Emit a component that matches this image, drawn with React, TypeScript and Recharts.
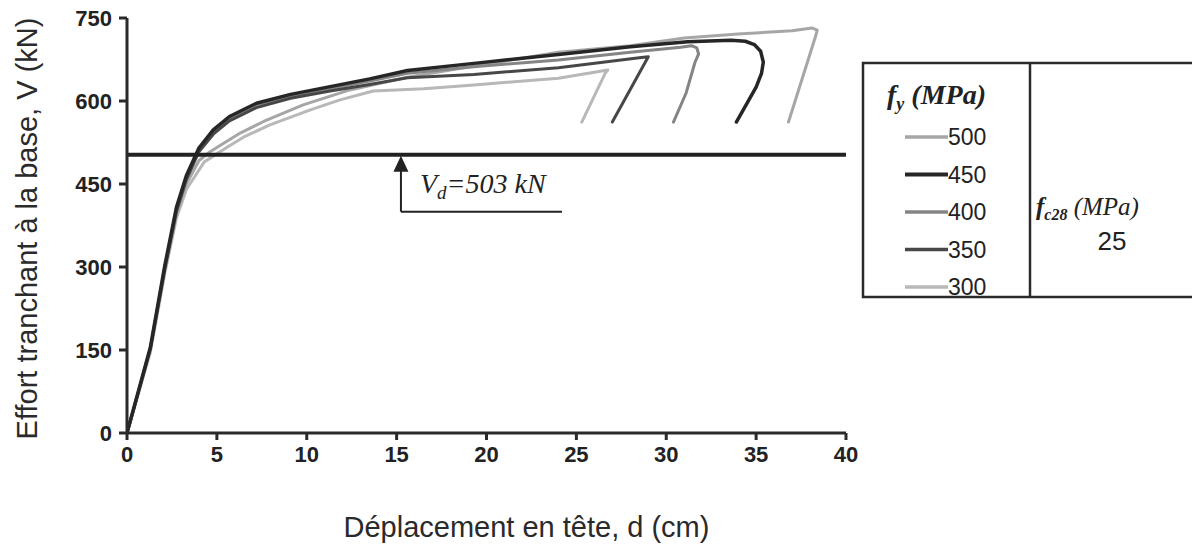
import React from 'react';
import { LineChart, Line, XAxis, YAxis, ReferenceLine, ReferenceDot } from 'recharts';

// fy (MPa) series
const fyValues = [500, 450, 400, 350, 300];
const fyColors = ['#a6a6a6', '#262626', '#858585', '#474747', '#b8b8b8'];
const fyWidths = [3, 3.5, 3, 3, 3];

// displacement d (cm) and base shear V (kN) per series
const d500 = [0, 1.3, 2.1, 2.75, 3.3, 4.0, 4.6, 5.2, 6.3, 7.6, 9.8, 12.4, 15.6, 19.3, 24, 28, 31, 34, 37, 38.1, 38.4, 38.3, 36.8];
const v500 = [0, 150, 293, 395, 450, 492, 508, 520, 542, 563, 593, 620, 643, 663, 688, 700, 714, 721, 727, 732, 728, 716, 562];

const d450 = [0, 1.3, 2.1, 2.75, 3.3, 4.0, 4.8, 5.7, 7.2, 9.1, 11.3, 13.5, 15.6, 19.3, 24, 28, 31.2, 33.6, 34.4, 34.9, 35.25, 35.4, 35.3, 35.0, 33.9];
const v450 = [0, 155, 302, 408, 465, 515, 548, 572, 596, 612, 626, 640, 655, 668, 684, 698, 707, 710, 708, 702, 690, 670, 650, 625, 562];

const d400 = [0, 1.3, 2.1, 2.75, 3.3, 4.0, 4.8, 5.7, 7.2, 9.1, 11.3, 13.5, 15.6, 19.3, 24, 28, 30.8, 31.4, 31.7, 31.8, 31.6, 31.1, 30.4];
const v400 = [0, 153, 299, 404, 462, 512, 545, 569, 593, 609, 622, 636, 650, 662, 674, 688, 697, 700, 696, 685, 670, 614, 562];

const d350 = [0, 1.3, 2.1, 2.75, 3.3, 4.0, 4.8, 5.7, 7.2, 9.1, 11.3, 13.5, 15.6, 19.3, 24, 28.5, 29.0, 28.9, 27.0];
const v350 = [0, 152, 296, 400, 458, 508, 540, 564, 588, 605, 618, 630, 642, 648, 660, 678, 680, 674, 562];

const d300 = [0, 1.3, 2.1, 2.75, 3.3, 4.3, 5.5, 6.5, 7.95, 10.2, 11.85, 13.7, 16.5, 19.3, 24, 26.75, 26.6, 25.3];
const v300 = [0, 146, 288, 388, 440, 490, 515, 535, 557, 584, 602, 618, 622, 629, 641, 656, 650, 562];

const xTicks = [0, 5, 10, 15, 20, 25, 30, 35, 40];
const yTicks = [0, 150, 300, 450, 600, 750];

const designShear = 503;
const fc28 = 25;
// annotation bracket (cm, kN)
const bracketX = [15.24, 24.2];
const bracketY = 400;
const noteAnchor = { x: 16.3, y: 434 };

const seriesD = [d500, d450, d400, d350, d300];
const seriesV = [v500, v450, v400, v350, v300];

const series = fyValues.map((fy, i) => ({
  fy,
  color: fyColors[i],
  width: fyWidths[i],
  data: seriesD[i].map((x, j) => ({ x, y: seriesV[i][j] })),
}));

// drawing order: light lines first, dark on top
const drawOrder = [4, 0, 2, 3, 1];

const sans = '"Liberation Sans", Arial, sans-serif';
const serif = '"Liberation Serif", "Times New Roman", serif';

const YTitle = (props: any) => {
  const vb = props.viewBox || { x: 0, y: 18, width: 127, height: 415 };
  const cx = 27;
  const cy = vb.y + vb.height / 2 + 3;
  return (
    <text x={cx} y={cy} transform={`rotate(-90 ${cx} ${cy})`} textAnchor="middle" dominantBaseline="central"
      style={{ fontFamily: sans, fontSize: 29, fill: '#2a2a2a' }}>
      Effort tranchant à la base, V (kN)
    </text>
  );
};

const XTitle = (props: any) => {
  const vb = props.viewBox || { x: 127, y: 433, width: 719, height: 113 };
  const cx = vb.x + vb.width / 2 + 40;
  const cy = vb.y + 104;
  return (
    <text x={cx} y={cy} textAnchor="middle" style={{ fontFamily: sans, fontSize: 29, fill: '#2a2a2a' }}>
      Déplacement en tête, d (cm)
    </text>
  );
};

const ArrowHead = (props: any) => {
  const { cx, cy } = props;
  if (cx == null || cy == null) return null;
  return <path d={`M ${cx} ${cy + 1} L ${cx - 7.5} ${cy + 17} L ${cx + 7.5} ${cy + 17} Z`} fill="#222" />;
};

const NoteText = (props: any) => {
  const { cx, cy } = props;
  if (cx == null || cy == null) return null;
  return (
    <text x={cx} y={cy} style={{ fontFamily: serif, fontStyle: 'italic', fontSize: 28, fill: '#222' }}>
      V<tspan fontSize={19} dy={6}>d</tspan><tspan dy={-6}>={designShear} kN</tspan>
    </text>
  );
};

const LegendBox = () => {
  const left = 863;
  const top = 63;
  const h = 234;
  const divider = 1030;
  return (
    <svg width={1192} height={546} style={{ position: 'absolute', left: 0, top: 0, pointerEvents: 'none' }}>
      <rect x={left} y={top} width={1192 - left + 10} height={h} fill="none" stroke="#2a2a2a" strokeWidth={2.5} />
      <line x1={divider} y1={top} x2={divider} y2={top + h} stroke="#2a2a2a" strokeWidth={2.5} />
      <text x={887} y={104} style={{ fontFamily: serif, fontStyle: 'italic', fontWeight: 'bold', fontSize: 28, fill: '#222' }}>
        f<tspan fontSize={18} dy={6}>y</tspan><tspan dy={-6}>{'  (MPa)'}</tspan>
      </text>
      {series.map((s, i) => {
        const y = 137 + i * 37.5;
        return (
          <g key={s.fy}>
            <line x1={905} y1={y} x2={948} y2={y} stroke={s.color} strokeWidth={s.width + 0.5} />
            <text x={948} y={y} dominantBaseline="central" style={{ fontFamily: sans, fontSize: 23, fill: '#222' }}>
              {s.fy}
            </text>
          </g>
        );
      })}
      <text x={1036} y={215} style={{ fontFamily: serif, fontStyle: 'italic', fontSize: 25, fill: '#222' }}>
        <tspan fontWeight="bold">f</tspan><tspan fontSize={16} dy={5} fontWeight="bold">c28</tspan><tspan dy={-5}>{' (MPa)'}</tspan>
      </text>
      <text x={1112} y={250} textAnchor="middle" style={{ fontFamily: sans, fontSize: 26, fill: '#222' }}>
        {fc28}
      </text>
    </svg>
  );
};

export default function App() {
  return (
    <div style={{ position: 'absolute', left: 0, top: 0, width: 1192, height: 546, background: '#fff' }}>
      <LineChart width={1192} height={546} margin={{ top: 18, right: 346, bottom: 0, left: 0 }}>
        <XAxis
          type="number"
          dataKey="x"
          domain={[0, 40]}
          ticks={xTicks}
          allowDataOverflow
          height={113}
          tickSize={7}
          tickMargin={6}
          axisLine={{ stroke: '#2a2a2a', strokeWidth: 3 }}
          tickLine={{ stroke: '#2a2a2a', strokeWidth: 3 }}
          tick={{ fontFamily: sans, fontSize: 22, fontWeight: 'bold', fill: '#222' }}
          label={XTitle}
        />
        <YAxis
          type="number"
          dataKey="y"
          domain={[0, 750]}
          ticks={yTicks}
          allowDataOverflow
          width={127}
          tickSize={8}
          tickMargin={7}
          axisLine={{ stroke: '#2a2a2a', strokeWidth: 3 }}
          tickLine={{ stroke: '#2a2a2a', strokeWidth: 3 }}
          tick={{ fontFamily: sans, fontSize: 22, fontWeight: 'bold', fill: '#222' }}
          label={YTitle}
        />
        {drawOrder.map((i) => (
          <Line
            key={series[i].fy}
            data={series[i].data}
            dataKey="y"
            type="linear"
            stroke={series[i].color}
            strokeWidth={series[i].width}
            dot={false}
            activeDot={false}
            isAnimationActive={false}
            strokeLinejoin="round"
            strokeLinecap="round"
          />
        ))}
        <ReferenceLine y={designShear} stroke="#222" strokeWidth={4} ifOverflow="extendDomain" />
        <ReferenceLine
          segment={[{ x: bracketX[0], y: bracketY }, { x: bracketX[1], y: bracketY }]}
          stroke="#222"
          strokeWidth={2}
        />
        <ReferenceLine
          segment={[{ x: bracketX[0], y: bracketY }, { x: bracketX[0], y: 475 }]}
          stroke="#222"
          strokeWidth={2}
        />
        <ReferenceDot x={bracketX[0]} y={designShear} r={0} shape={ArrowHead} />
        <ReferenceDot x={noteAnchor.x} y={noteAnchor.y} r={0} shape={NoteText} />
      </LineChart>
      <LegendBox />
    </div>
  );
}
